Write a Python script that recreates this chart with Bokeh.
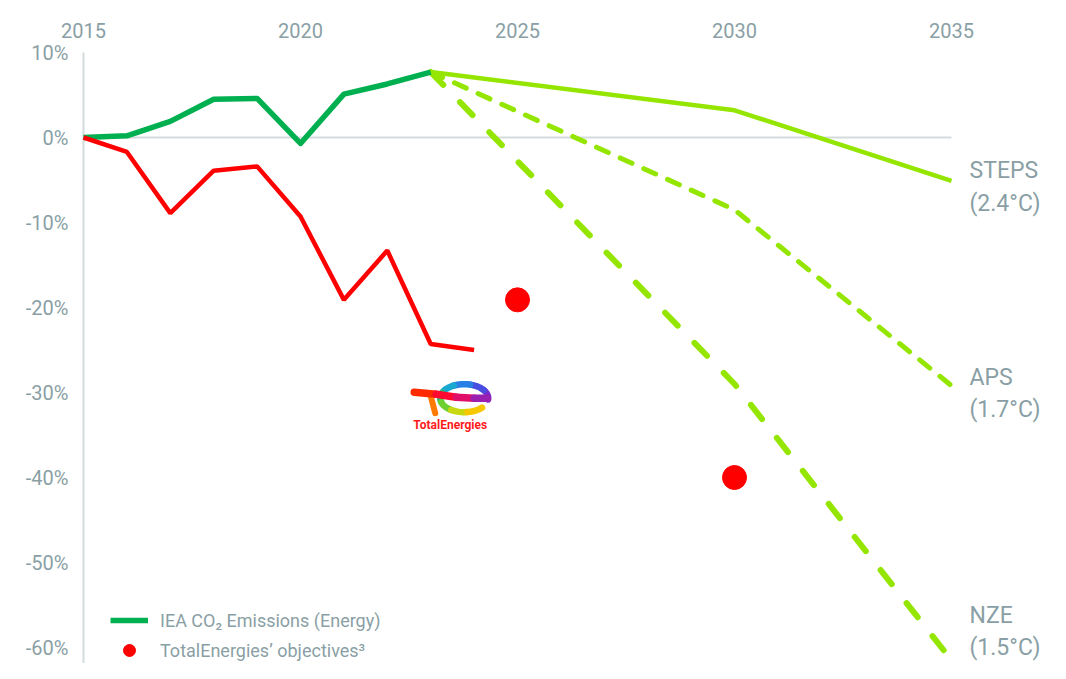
import math
from bokeh.plotting import figure
from bokeh.models import FixedTicker, PrintfTickFormatter, Legend, LegendItem, Range1d
from bokeh.core.properties import value
from bokeh.embed import file_html
from bokeh.resources import INLINE

# ---------------- data ----------------
hist_years = [2015, 2016, 2017, 2018, 2019, 2020, 2021, 2022, 2023]
iea_hist = [0.0, 0.2, 1.9, 4.5, 4.6, -0.7, 5.1, 6.3, 7.7]

te_years = [2015, 2016, 2017, 2018, 2019, 2020, 2021, 2022, 2023, 2024]
te_hist = [0.0, -1.7, -8.9, -3.9, -3.4, -9.3, -19.1, -13.3, -24.3, -25.0]

scen_years = [2023, 2030, 2035]
steps = [7.7, 3.2, -5.1]
aps = [7.7, -8.5, -29.2]
nze = [7.7, -29.0, -61.5]

obj_years = [2025, 2030]
obj_values = [-19.1, -40.0]

scen_names = ["STEPS\n(2.4°C)", "APS\n(1.7°C)", "NZE\n(1.5°C)"]
x_ticks = [2015, 2020, 2025, 2030, 2035]
y_ticks = [-60, -50, -40, -30, -20, -10, 0, 10]

# ---------------- styling ----------------
FONT = "Roboto"
GREY = "#8a9fa5"
LIGHT = "#d3dbdd"
GREEN = "#00b050"
LIME = "#94e600"
RED = "#ff0000"

W, H = 1050, 663
left, top = 78, 37
kx = 43.4      # px per year
ky = 8.5       # px per percent
x0 = 2015 - 5 / kx
x1 = x0 + (W - left) / kx
y_top = 10 + 15 / ky
y_bot = y_top - (H - top) / ky

p = figure(width=W, height=H, output_backend="svg", toolbar_location=None,
           x_range=Range1d(x0, x1), y_range=Range1d(y_bot, y_top),
           x_axis_location="above", min_border_left=left, min_border_top=top,
           min_border_right=0, min_border_bottom=0)
p.outline_line_color = None
p.grid.visible = False
p.background_fill_color = "white"
p.border_fill_color = "white"

for ax in (p.xaxis[0], p.yaxis[0]):
    ax.axis_line_color = None
    ax.major_tick_line_color = None
    ax.minor_tick_line_color = None
    ax.major_tick_out = 0
    ax.major_tick_in = 0
    ax.major_label_text_color = GREY
    ax.major_label_text_font = FONT
p.xaxis[0].ticker = FixedTicker(ticks=x_ticks)
p.xaxis[0].major_label_text_font_size = "20px"
p.xaxis[0].major_label_standoff = 0
p.yaxis[0].ticker = FixedTicker(ticks=y_ticks)
p.yaxis[0].formatter = PrintfTickFormatter(format="%d%%")
p.yaxis[0].major_label_text_font_size = "20px"
p.yaxis[0].major_label_standoff = 10

# reference lines
p.line([x_ticks[0], x_ticks[-1]], [0, 0], line_color=LIGHT, line_width=2)
p.segment(x0=[x_ticks[0]], y0=[y_ticks[-1]], x1=[x_ticks[0]], y1=[y_bot],
          line_color=LIGHT, line_width=2)

# scenarios
p.line(scen_years, nze, line_color=LIME, line_width=6, line_dash="18 24", line_cap="round")
p.line(scen_years, aps, line_color=LIME, line_width=5, line_dash="13 13", line_cap="round")
p.line(scen_years, steps, line_color=LIME, line_width=4.5)

r_iea = p.line(hist_years, iea_hist, line_color=GREEN, line_width=5.5, line_join="round")
p.line(te_years, te_hist, line_color=RED, line_width=4.5)
r_obj = p.scatter(obj_years, obj_values, size=24, color=RED)

# scenario labels
ends = [steps[-1], aps[-1], nze[-1]]
p.text(x=[scen_years[-1]] * 3, y=ends, text=scen_names, x_offset=18,
       y_offset=[6, 8, -29], text_align="left", text_baseline="middle",
       text_font=value(FONT), text_font_size="23px", text_color=GREY,
       text_line_height=1.2)

# ---- TotalEnergies logo (decorative, drawn relative to an anchor) ----
ax_, ay_ = 2023.45, -30.2   # anchor ~ centre of the mark's bar
def X(dx): return ax_ + dx / kx
def Y(dy): return ay_ - dy / ky
ecx, ecy, rx, ry = 14, 4, 24, 14
arc_cols = ["#7a2bd0", "#4a4ee0", "#2a7fe6", "#18a8d0", "#20bf80",
            "#6cd030", "#c8d810", "#f6c800"]
n = len(arc_cols)
a0, a1 = math.radians(-5), math.radians(318)
for i, c in enumerate(arc_cols):
    s = a0 + (a1 - a0) * i / n
    e = a0 + (a1 - a0) * (i + 1) / n
    angs = [s + (e - s) * k / 6 for k in range(7)]
    p.line([X(ecx + rx * math.cos(t)) for t in angs],
           [Y(ecy - ry * math.sin(t)) for t in angs],
           line_color=c, line_width=6.5, line_cap="round")
bar = [(-36, -2, -14, 0, "#ff2a00"), (-14, 0, 6, 3, "#ff0a30"),
       (6, 3, 24, 4, "#e0106a"), (24, 4, 37, 4, "#9a20b0")]
p.segment(x0=[X(-20)], y0=[Y(0)], x1=[X(-15)], y1=[Y(19)], line_color="#ff7a00",
          line_width=6, line_cap="round")
for (a, b, c_, d, col) in bar:
    p.segment(x0=[X(a)], y0=[Y(b)], x1=[X(c_)], y1=[Y(d)], line_color=col,
              line_width=7.5, line_cap="round")
p.text(x=[ax_], y=[ay_], text=["TotalEnergies"], x_offset=[0], y_offset=[31],
       text_align="center", text_baseline="middle", text_font=value(FONT),
       text_font_style="bold", text_font_size="12px", text_color="#ff1a1a")

# legend
legend = Legend(items=[LegendItem(label="IEA CO₂ Emissions (Energy)", renderers=[r_iea]),
                       LegendItem(label="TotalEnergies’ objectives³", renderers=[r_obj])],
                location=(32, -2), padding=0, spacing=0, glyph_width=38, glyph_height=30,
                label_height=30, label_standoff=12, label_text_font=FONT,
                label_text_font_size="18px", label_text_color=GREY,
                border_line_color=None, background_fill_alpha=0)
p.add_layout(legend)

open("out.html", "w").write(file_html(p, INLINE))
